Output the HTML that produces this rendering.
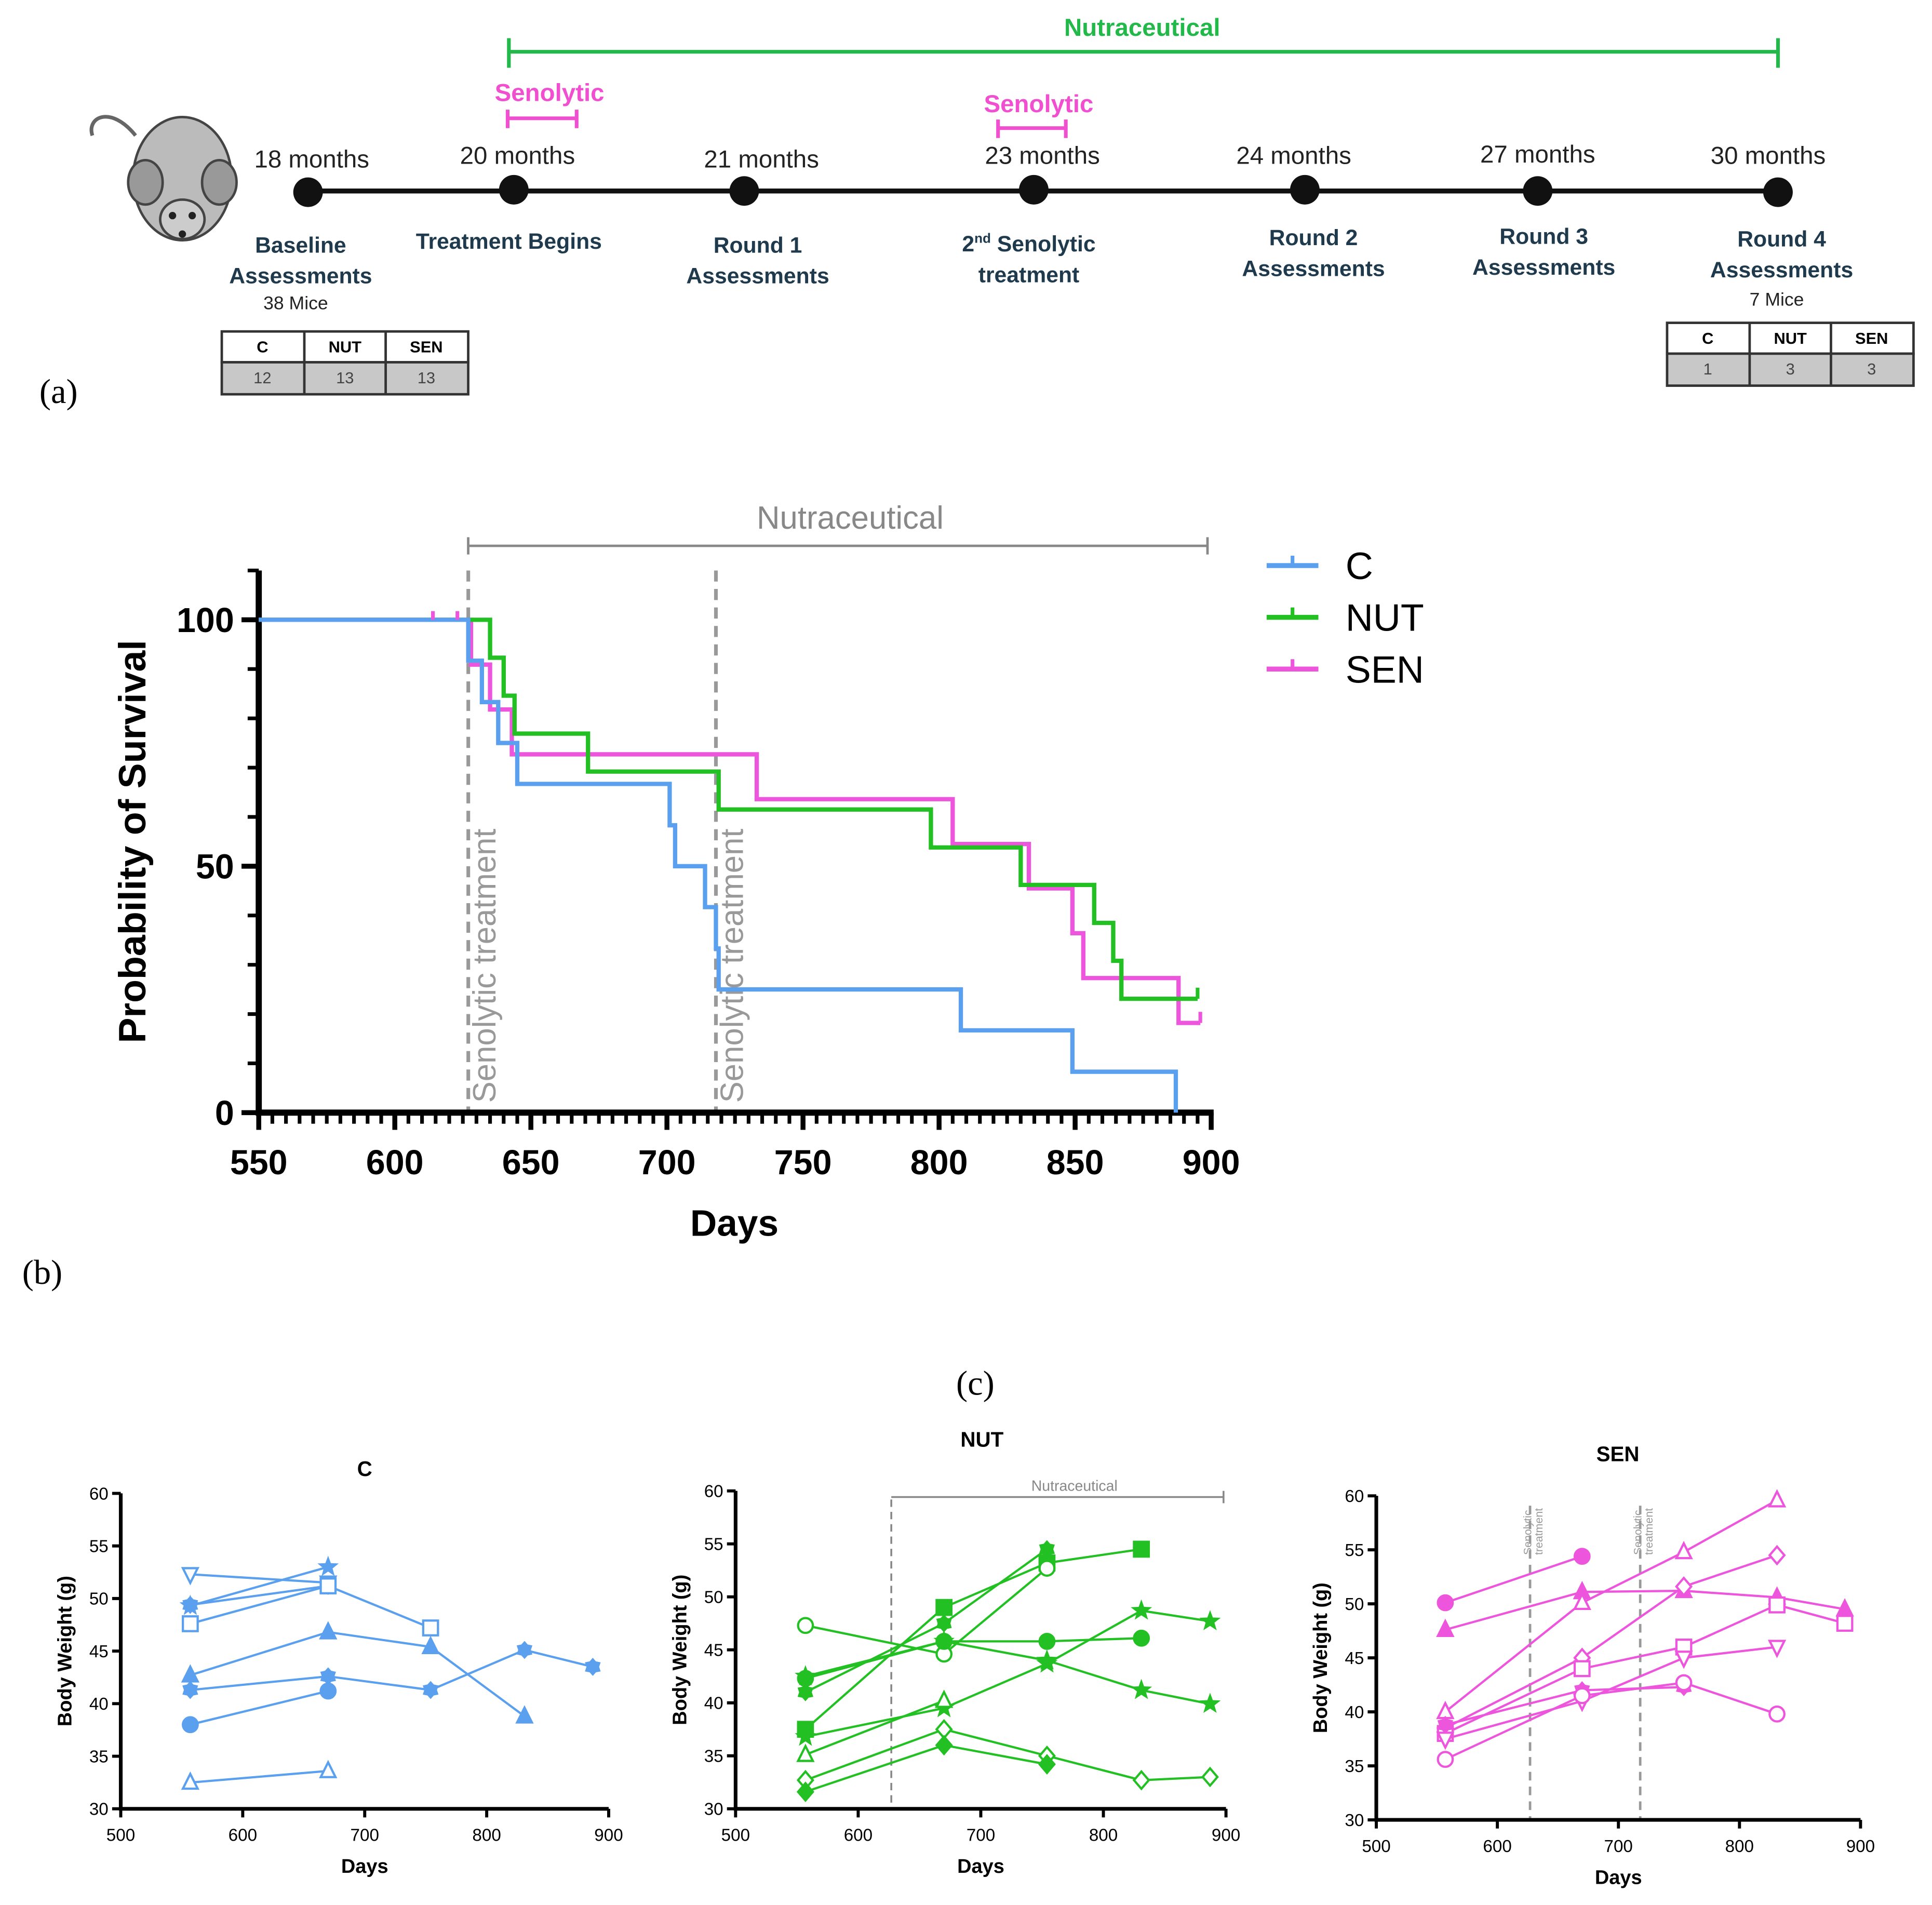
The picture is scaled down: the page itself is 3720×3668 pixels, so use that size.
<!DOCTYPE html>
<html><head><meta charset="utf-8"><style>
html,body{margin:0;padding:0;background:#fff}
svg{display:block}
text{font-family:"Liberation Sans",sans-serif}
</style></head><body>
<svg id="fig" width="3720" height="3668" viewBox="0 0 1568 1546" preserveAspectRatio="xMinYMin meet" xmlns="http://www.w3.org/2000/svg">
<rect width="1568" height="1546" fill="#fff"/>
<!-- Panel A -->
<g>
  <g>
    <path d="M110,110 C90,85 70,95 75,110" stroke="#666" stroke-width="3" fill="none"/>
    <ellipse cx="148" cy="145" rx="40" ry="50" fill="#bbb" stroke="#444" stroke-width="2"/>
    <ellipse cx="118" cy="148" rx="14" ry="18" fill="#999" stroke="#444" stroke-width="2"/>
    <ellipse cx="178" cy="148" rx="14" ry="18" fill="#999" stroke="#444" stroke-width="2"/>
    <ellipse cx="148" cy="178" rx="18" ry="16" fill="#ccc" stroke="#444" stroke-width="2"/>
    <circle cx="140" cy="175" r="3" fill="#222"/><circle cx="156" cy="175" r="3" fill="#222"/>
    <circle cx="148" cy="190" r="3" fill="#222"/>
  </g>
  <line x1="250" y1="155" x2="1443" y2="155" stroke="#111" stroke-width="4"/>
  <g fill="#111">
    <circle cx="250" cy="156" r="12"/>
    <circle cx="417" cy="154" r="12"/>
    <circle cx="604" cy="155" r="12"/>
    <circle cx="839" cy="154" r="12"/>
    <circle cx="1059" cy="154" r="12"/>
    <circle cx="1248" cy="155" r="12"/>
    <circle cx="1443" cy="156" r="12"/>
  </g>
  <g font-size="20" fill="#222" text-anchor="middle">
    <text x="253" y="136">18 months</text>
    <text x="420" y="133">20 months</text>
    <text x="618" y="136">21 months</text>
    <text x="846" y="133">23 months</text>
    <text x="1050" y="133">24 months</text>
    <text x="1248" y="132">27 months</text>
    <text x="1435" y="133">30 months</text>
  </g>
  <g font-size="18" font-weight="bold" fill="#1e3a4c" text-anchor="middle">
    <text x="244" y="205">Baseline</text><text x="244" y="230">Assessments</text>
    <text x="413" y="202">Treatment Begins</text>
    <text x="615" y="205">Round 1</text><text x="615" y="230">Assessments</text>
    <text x="835" y="204">2<tspan font-size="11" dy="-7">nd</tspan><tspan dy="7"> Senolytic</tspan></text><text x="835" y="229">treatment</text>
    <text x="1066" y="199">Round 2</text><text x="1066" y="224">Assessments</text>
    <text x="1253" y="198">Round 3</text><text x="1253" y="223">Assessments</text>
    <text x="1446" y="200">Round 4</text><text x="1446" y="225">Assessments</text>
  </g>
  <text x="240" y="251" font-size="15" fill="#222" text-anchor="middle">38 Mice</text>
  <text x="1442" y="248" font-size="15" fill="#222" text-anchor="middle">7 Mice</text>
  <g stroke="#22b84a" stroke-width="3">
    <line x1="413" y1="42" x2="1443" y2="42"/><line x1="413" y1="31" x2="413" y2="55"/><line x1="1443" y1="31" x2="1443" y2="55"/>
  </g>
  <text x="927" y="29" font-size="20" font-weight="bold" fill="#22b84a" text-anchor="middle">Nutraceutical</text>
  <g stroke="#f050d0" stroke-width="3">
    <line x1="412" y1="96" x2="468" y2="96"/><line x1="412" y1="89" x2="412" y2="104"/><line x1="468" y1="89" x2="468" y2="104"/>
    <line x1="810" y1="104" x2="865" y2="104"/><line x1="810" y1="97" x2="810" y2="112"/><line x1="865" y1="97" x2="865" y2="112"/>
  </g>
  <text x="446" y="82" font-size="20" font-weight="bold" fill="#f050d0" text-anchor="middle">Senolytic</text>
  <text x="843" y="91" font-size="20" font-weight="bold" fill="#f050d0" text-anchor="middle">Senolytic</text>
  <g font-size="13" text-anchor="middle">
    <rect x="180" y="269" width="200" height="25" fill="#fff" stroke="#333" stroke-width="2"/>
    <rect x="180" y="294" width="200" height="26" fill="#c8c8c8" stroke="#333" stroke-width="2"/>
    <line x1="247" y1="269" x2="247" y2="320" stroke="#333" stroke-width="2"/><line x1="313" y1="269" x2="313" y2="320" stroke="#333" stroke-width="2"/>
    <text x="213" y="286" font-weight="bold">C</text><text x="280" y="286" font-weight="bold">NUT</text><text x="346" y="286" font-weight="bold">SEN</text>
    <text x="213" y="311" fill="#444">12</text><text x="280" y="311" fill="#444">13</text><text x="346" y="311" fill="#444">13</text>
  </g>
  <g font-size="13" text-anchor="middle">
    <rect x="1353" y="262" width="200" height="25" fill="#fff" stroke="#333" stroke-width="2"/>
    <rect x="1353" y="287" width="200" height="26" fill="#c8c8c8" stroke="#333" stroke-width="2"/>
    <line x1="1420" y1="262" x2="1420" y2="313" stroke="#333" stroke-width="2"/><line x1="1486" y1="262" x2="1486" y2="313" stroke="#333" stroke-width="2"/>
    <text x="1386" y="279" font-weight="bold">C</text><text x="1453" y="279" font-weight="bold">NUT</text><text x="1519" y="279" font-weight="bold">SEN</text>
    <text x="1386" y="304" fill="#444">1</text><text x="1453" y="304" fill="#444">3</text><text x="1519" y="304" fill="#444">3</text>
  </g>
  <text x="32" y="327" font-size="28" style="font-family:'Liberation Serif',serif">(a)</text>
</g>
<text x="18" y="1042" font-size="28" style="font-family:'Liberation Serif',serif">(b)</text>
<text x="776" y="1132" font-size="28" style="font-family:'Liberation Serif',serif">(c)</text>
<g id="surv"></g>
<g id="wc"></g>
<g id="wn"></g>
<g id="ws"></g>
</svg>
<script>
// ---- Survival data ----
const survC_days=[550,627,632,638,645,701,703,714,718,719,808,849,887];
const survC_vals=[100,91.7,83.3,75,66.7,58.3,50,41.7,33.3,25,16.7,8.3,0];
const survN_days=[550,635,640,644,671,719,797,830,857,864,867,895];
const survN_vals=[100,92.3,84.6,76.9,69.2,61.5,53.8,46.2,38.5,30.8,23.1,23.1];
const survS_days=[550,628,635,643,733,805,833,849,853,888,896];
const survS_vals=[100,90.9,81.8,72.7,63.6,54.5,45.5,36.4,27.3,18.2,18.2];
const survXTicks=[550,600,650,700,750,800,850,900];
const survYTicks=[0,50,100];
const senolyticDays=[627,718];

// ---- Weight data ----
const wDays=[557,670,754,831,887];
const cSeries=[[52.3,51.5],[49.3,53],[49.4,51.2],[47.6,51.2,47.2],[42.7,46.8,45.4,38.8],[41.3,42.6,41.3,45.1,43.5],[38,41.2],[32.5,33.6]];
const cShapes=[["invtri",0],["star",1],["hex",1],["square",0],["tri",1],["hex",1],["circle",1],["tri",0]];
const nSeries=[[37.5,49,53.2,54.5],[47.3,44.6,52.7],[42.3,45.8,45.8,46.1],[41,47.5,54.5],[42.5,45.8,44,41.2,39.9],[36.8,39.5,43.7,48.7,47.7],[35.1,40.2],[32.7,37.5,35,32.7,33],[31.6,36,34.2]];
const nShapes=[["square",1],["circle",0],["circle",1],["hex",1],["star",1],["star",1],["tri",0],["diamond",0],["diamond",1]];
const sSeries=[[50.1,54.4],[47.6,51.1,51.2,50.6,49.5],[40,50.1,54.8,59.6],[38.5,45,51.6,54.5],[38,44,46,49.9,48.2],[37.5,41,45,46],[38.8,42,42.3],[35.6,41.5,42.7,39.8]];
const sShapes=[["circle",1],["tri",1],["tri",0],["diamond",0],["square",0],["invtri",0],["hex",1],["circle",0]];
const wXTicks=[500,600,700,800,900];
const wYTicks=[30,35,40,45,50,55,60];

const NS="http://www.w3.org/2000/svg";
function mk(tag,attrs,parent){const e=document.createElementNS(NS,tag);for(const k in attrs)e.setAttribute(k,attrs[k]);parent.appendChild(e);return e;}
function txt(s,attrs,parent){const e=mk("text",attrs,parent);e.textContent=s;return e;}

// ---- Survival chart ----
(function(){
const g=document.getElementById("surv");
const X0=210,X1=983,Y0=903,Y1=503;
const sx=d=>X0+(d-550)/(900-550)*(X1-X0);
const sy=v=>Y0+(v-0)/(100)*(Y1-Y0);
senolyticDays.forEach(d=>{
  const l=mk("line",{x1:sx(d),y1:463,x2:sx(d),y2:903,stroke:"#999","stroke-width":3,"stroke-dasharray":"9,6"},g);
  
  
  const t=txt("Senolytic treatment",{x:0,y:0,"font-size":26,fill:"#999",transform:`translate(${sx(d)+22},895) rotate(-90)`},g);
  
  
});
const br=mk("path",{d:"M380,443 L980,443 M380,436 L380,450 M980,436 L980,450",stroke:"#888","stroke-width":2,fill:"none"},g);


const bt=txt("Nutraceutical",{x:690,y:429,"font-size":26,fill:"#888","text-anchor":"middle"},g);


const ax=mk("path",{d:`M${X0},463 L${X0},${Y0} L${X1+2},${Y0}`,stroke:"#000","stroke-width":5,fill:"none"},g);


for(let d=550;d<=900;d+=5){const big=d%50===0;mk("line",{x1:sx(d),y1:Y0,x2:sx(d),y2:Y0+(big?14:9),stroke:"#000","stroke-width":big?4:3},g);}
for(let v=0;v<=110;v+=10){const big=v%50===0;mk("line",{x1:X0,y1:sy(v),x2:X0-(big?14:9),y2:sy(v),stroke:"#000","stroke-width":big?4:3},g);}
survXTicks.forEach(d=>{const t=txt(String(d),{x:sx(d),y:953,"font-size":28,"font-weight":"bold","text-anchor":"middle"},g);
 
 });
survYTicks.forEach(v=>{const t=txt(String(v),{x:X0-20,y:sy(v)+10,"font-size":28,"font-weight":"bold","text-anchor":"end"},g);
 
 });
const xl=txt("Days",{x:596,y:1003,"font-size":30,"font-weight":"bold","text-anchor":"middle"},g);


const yl=txt("Probability of Survival",{x:0,y:0,"font-size":31,"font-weight":"bold","text-anchor":"middle",transform:"translate(118,683) rotate(-90)"},g);


function step(days,vals,color,name){
  let d=`M${sx(days[0])},${sy(vals[0])}`;
  for(let i=1;i<days.length;i++){d+=` H${sx(days[i])} V${sy(vals[i])}`;}
  const p=mk("path",{d:d,stroke:color,"stroke-width":3.5,fill:"none"},g);
  
  
}
step(survS_days,survS_vals,"#ee55dd","survival-line-sen");
step(survN_days,survN_vals,"#22c022","survival-line-nut");
step(survC_days,survC_vals,"#5aa0ee","survival-line-c");
[614,623].forEach(d=>mk("line",{x1:sx(d),y1:sy(100)-7,x2:sx(d),y2:sy(100),stroke:"#ee55dd","stroke-width":3},g));
mk("line",{x1:sx(895),y1:sy(23.1),x2:sx(895),y2:sy(23.1)-9,stroke:"#22c022","stroke-width":3},g);
mk("line",{x1:sx(896),y1:sy(18.2),x2:sx(896),y2:sy(18.2)-9,stroke:"#ee55dd","stroke-width":3},g);
const leg=[["C","#5aa0ee",459],["NUT","#22c022",501],["SEN","#ee55dd",543]];
leg.forEach(([n,c,y])=>{
  const l=mk("line",{x1:1028,y1:y,x2:1070,y2:y,stroke:c,"stroke-width":4},g);
  
  
  mk("line",{x1:1049,y1:y,x2:1049,y2:y-8,stroke:c,"stroke-width":3},g);
  const t=txt(n,{x:1092,y:y+11,"font-size":31},g);
  
  
});
})();

// ---- Weight charts ----
function marker(g,shape,filled,x,y,color){
  const r=6;let e;
  const a={fill:filled?color:"#fff",stroke:color,"stroke-width":1.8};
  if(shape==="circle")e=mk("circle",Object.assign({cx:x,cy:y,r:r},a),g);
  else if(shape==="square")e=mk("rect",Object.assign({x:x-r,y:y-r,width:2*r,height:2*r},a),g);
  else if(shape==="tri")e=mk("polygon",Object.assign({points:`${x},${y-r-1} ${x+r},${y+r-1} ${x-r},${y+r-1}`},a),g);
  else if(shape==="invtri")e=mk("polygon",Object.assign({points:`${x},${y+r+1} ${x+r},${y-r+1} ${x-r},${y-r+1}`},a),g);
  else if(shape==="diamond")e=mk("polygon",Object.assign({points:`${x},${y-r-1} ${x+r},${y} ${x},${y+r+1} ${x-r},${y}`},a),g);
  else if(shape==="star"){let p=[];for(let i=0;i<10;i++){const rr=i%2?r*0.45:r+0.5;const an=-Math.PI/2+i*Math.PI/5;p.push((x+rr*Math.cos(an)).toFixed(1)+","+(y+rr*Math.sin(an)).toFixed(1));}e=mk("polygon",Object.assign({points:p.join(" ")},a),g);}
  else {let p=[];for(let i=0;i<12;i++){const rr=i%2?r*0.7:r;const an=-Math.PI/2+i*Math.PI/6;p.push((x+rr*Math.cos(an)).toFixed(1)+","+(y+rr*Math.sin(an)).toFixed(1));}e=mk("polygon",Object.assign({points:p.join(" ")},a),g);}
  
  
}
function weightChart(id,box,title,series,shapes,color,extras){
  const g=document.getElementById(id);
  const [X0,X1,Y0,Y1,titleX,titleY]=box;
  const sx=d=>X0+(d-500)/400*(X1-X0);
  const sy=v=>Y0+(v-30)/30*(Y1-Y0);
  if(extras)extras(g,sx,sy,Y0,Y1);
  const ax=mk("path",{d:`M${X0},${Y1} L${X0},${Y0} L${X1},${Y0}`,stroke:"#000","stroke-width":3,fill:"none"},g);
  
  
  wXTicks.forEach(d=>{mk("line",{x1:sx(d),y1:Y0,x2:sx(d),y2:Y0+7,stroke:"#000","stroke-width":2.5},g);
    const t=txt(String(d),{x:sx(d),y:Y0+26,"font-size":14,"text-anchor":"middle"},g);
    
    });
  wYTicks.forEach(v=>{mk("line",{x1:X0,y1:sy(v),x2:X0-7,y2:sy(v),stroke:"#000","stroke-width":2.5},g);
    const t=txt(String(v),{x:X0-10,y:sy(v)+5,"font-size":14,"text-anchor":"end"},g);
    
    });
  const tt=txt(title,{x:titleX,y:titleY,"font-size":17,"font-weight":"bold","text-anchor":"middle"},g);
  
  
  const xl=txt("Days",{x:(X0+X1)/2,y:Y0+52,"font-size":16,"font-weight":"bold","text-anchor":"middle"},g);
  
  
  const yl=txt("Body Weight (g)",{x:0,y:0,"font-size":16,"font-weight":"bold","text-anchor":"middle",transform:`translate(${X0-40},${(Y0+Y1)/2}) rotate(-90)`},g);
  
  
  series.forEach((s,i)=>{
    const pts=s.map((v,j)=>sx(wDays[j]).toFixed(1)+","+sy(v).toFixed(1)).join(" ");
    const pl=mk("polyline",{points:pts,stroke:color,"stroke-width":1.8,fill:"none"},g);
    
    
    s.forEach((v,j)=>marker(g,shapes[i][0],shapes[i][1],sx(wDays[j]),sy(v),color));
  });
}
weightChart("wc",[98,494,1468,1212,296,1198],"C",cSeries,cShapes,"#5aa0ee");
weightChart("wn",[597,995,1468,1210,797,1174],"NUT",nSeries,nShapes,"#22c022",(g,sx,sy,Y0,Y1)=>{
  mk("line",{x1:sx(627),y1:1217,x2:sx(627),y2:Y0,stroke:"#888","stroke-width":1.5,"stroke-dasharray":"6,4"},g);
  mk("path",{d:`M${sx(627)},1215 H${sx(898)} M${sx(898)},1210 V1220`,stroke:"#888","stroke-width":1.5,fill:"none"},g);
  txt("Nutraceutical",{x:872,y:1210,"font-size":12,fill:"#888","text-anchor":"middle"},g);
});
weightChart("ws",[1117,1510,1477,1214,1313,1186],"SEN",sSeries,sShapes,"#ee55dd",(g,sx,sy,Y0,Y1)=>{
  senolyticDays.forEach(d=>{
    mk("line",{x1:sx(d),y1:1222,x2:sx(d),y2:Y0,stroke:"#999","stroke-width":2,"stroke-dasharray":"7,5"},g);
    const t=mk("text",{x:0,y:0,"font-size":9,fill:"#999",transform:`translate(${sx(d)+1},1262) rotate(-90)`},g);
    t.textContent="Senolytic";
    const t2=mk("text",{x:0,y:0,"font-size":9,fill:"#999",transform:`translate(${sx(d)+10},1262) rotate(-90)`},g);
    t2.textContent="treatment";
  });
});
</script>
</body></html>
